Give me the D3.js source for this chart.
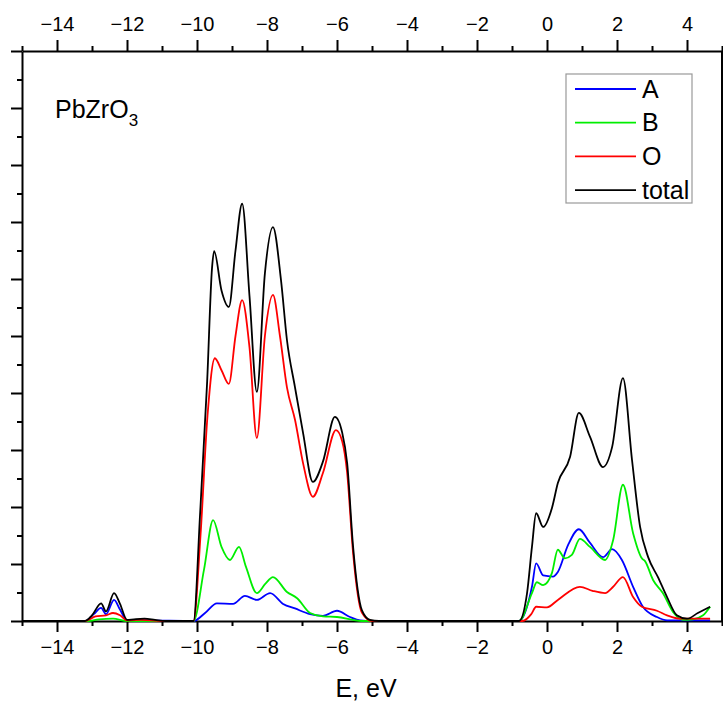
<!DOCTYPE html>
<html lang="en">
<head>
    <meta charset="UTF-8">
    <title>PbZrO3 DOS</title>
    <script src="https://d3js.org/d3.v7.min.js"></script>
    <style>
        body { margin: 0; background: #fff; }
        text { font-family: "Liberation Sans", Arial, sans-serif; fill: #000; }
        .axis path, .axis line { stroke: #000; stroke-width: 2; }
        .axis text { font-size: 20px; }
    </style>
</head>
<body>
    <div id="chart"></div>

    <script>
        // [E (eV), DOS] pairs
        const dosA = [[-15,0],[-13.2,0],[-12.95,0.12],[-12.74,0.23],[-12.6,0.12],[-12.37,0.37],[-12.2,0.2],[-12.0,0.01],[-11.5,0.01],[-10.1,0],
            [-9.77,0.14],[-9.43,0.31],[-8.97,0.3],[-8.63,0.44],[-8.29,0.37],[-7.91,0.49],[-7.54,0.3],[-7.2,0.22],[-6.77,0.12],[-6.4,0.09],
            [-6.0,0.18],[-5.63,0.07],[-5.34,0.01],[-5.0,0],[-0.8,0],[-0.43,0.6],[-0.31,1.01],[-0.11,0.8],[0.17,0.78],[0.31,0.86],
            [0.6,1.33],[0.91,1.61],[1.23,1.37],[1.6,1.12],[1.86,1.26],[2.14,1.07],[2.46,0.6],[2.74,0.25],[3.14,0.07],[3.43,0.01],[4.66,0.01]];

        const dosB = [[-15,0],[-13.1,0],[-12.8,0.03],[-12.4,0.04],[-12.0,0],[-10.1,0],[-9.8,0.9],[-9.54,1.77],[-9.3,1.3],[-9.06,1.07],
            [-8.8,1.3],[-8.6,0.95],[-8.29,0.49],[-8.05,0.65],[-7.83,0.77],[-7.43,0.51],[-7.14,0.4],[-6.77,0.14],[-6.4,0.08],[-6.0,0.07],
            [-5.54,0.02],[-5.3,0],[-0.8,0],[-0.43,0.49],[-0.29,0.68],[-0.11,0.63],[0.14,0.84],[0.31,1.25],[0.51,1.1],[0.71,1.16],
            [0.94,1.44],[1.23,1.3],[1.66,1.07],[1.89,1.42],[2.17,2.39],[2.46,1.54],[2.71,1.1],[2.8,1.05],[3.03,0.72],[3.31,0.49],
            [3.6,0.16],[3.89,0.02],[4.17,0.03],[4.46,0.1],[4.66,0.25]];

        const dosO = [[-15,0],[-13.2,0],[-12.9,0.08],[-12.6,0.1],[-12.4,0.14],[-12.2,0.1],[-12.0,0.01],[-11.6,0.02],[-11,0],[-10.1,0],
            [-9.9,1.5],[-9.7,3.6],[-9.49,4.61],[-9.3,4.4],[-9.09,4.16],[-8.9,5.0],[-8.71,5.63],[-8.5,4.8],[-8.29,3.21],[-8.06,5.0],
            [-7.83,5.72],[-7.63,5.0],[-7.43,4.1],[-7.2,3.53],[-6.97,2.77],[-6.69,2.18],[-6.4,2.6],[-6.03,3.35],[-5.85,3.15],[-5.71,2.6],
            [-5.54,1.19],[-5.29,0.15],[-5.0,0],[-0.7,0],[-0.45,0.12],[-0.31,0.25],[0.0,0.24],[0.31,0.37],[0.94,0.6],[1.3,0.53],
            [1.66,0.49],[1.89,0.6],[2.17,0.77],[2.46,0.42],[2.71,0.25],[3.14,0.18],[3.43,0.1],[3.8,0.04],[4.66,0.04]];

        const dosTotal = [[-15,0],[-13.2,0],[-13.0,0.1],[-12.74,0.31],[-12.6,0.17],[-12.37,0.49],[-12.2,0.3],[-12.0,0.02],[-11.8,0.03],
            [-11.5,0.04],[-11.2,0.02],[-10.9,0],[-10.1,0],[-9.91,1.9],[-9.71,4.2],[-9.57,6.2],[-9.51,6.49],[-9.3,5.8],[-9.09,5.51],
            [-8.9,6.5],[-8.71,7.32],[-8.5,5.7],[-8.29,4.02],[-8.06,6.1],[-7.83,6.91],[-7.6,5.98],[-7.43,4.93],[-7.2,4.1],[-6.97,3.3],
            [-6.69,2.44],[-6.4,2.8],[-6.06,3.58],[-5.85,3.3],[-5.71,2.77],[-5.54,1.3],[-5.29,0.19],[-5.06,0.02],[-4.8,0],[-0.8,0],
            [-0.57,0.49],[-0.43,1.3],[-0.31,1.89],[-0.11,1.65],[0.14,1.98],[0.31,2.42],[0.66,2.88],[0.91,3.65],[1.23,3.23],[1.6,2.7],
            [1.86,3.05],[2.17,4.26],[2.43,2.82],[2.66,1.65],[2.89,1.12],[3.17,0.77],[3.43,0.42],[3.71,0.1],[4.0,0.04],[4.31,0.14],[4.66,0.25]];

        const seriesNames = ["A", "B", "O", "total"];
        const seriesColors = ["#0000ff", "#00ee00", "#ff0000", "#000000"];
        const xMajorTicks = [-14, -12, -10, -8, -6, -4, -2, 0, 2, 4];

        const W = 723, H = 702;
        const margin = { top: 51, right: 1, bottom: 81, left: 22 },
              width = W - margin.left - margin.right,
              height = H - margin.top - margin.bottom;

        const svg = d3.select("#chart").append("svg")
            .attr("width", W).attr("height", H);
        const g = svg.append("g")
            .attr("transform", `translate(${margin.left},${margin.top})`);

        const x = d3.scaleLinear().domain([-15, 5]).range([0, width]);
        const y = d3.scaleLinear().domain([0, 10]).range([height, 0]);

        const minorX = d3.range(-15, 6, 1).filter(v => xMajorTicks.indexOf(v) < 0);
        const minorY = d3.range(0.5, 10, 1);

        // bottom axis
        g.append("g").attr("class", "axis")
            .attr("transform", `translate(0,${height})`)
            .call(d3.axisBottom(x).tickValues(xMajorTicks).tickSize(11).tickSizeOuter(0).tickPadding(8).tickFormat(d3.format("d")));
        g.append("g").attr("class", "axis")
            .attr("transform", `translate(0,${height})`)
            .call(d3.axisBottom(x).tickValues(minorX).tickSize(5).tickFormat(""))
            .select(".domain").remove();

        // top axis
        g.append("g").attr("class", "axis")
            .call(d3.axisTop(x).tickValues(xMajorTicks).tickSize(11).tickSizeOuter(0).tickPadding(9).tickFormat(d3.format("d")));
        g.append("g").attr("class", "axis")
            .call(d3.axisTop(x).tickValues(minorX).tickSize(5).tickFormat(""))
            .select(".domain").remove();

        // left axis (no labels)
        g.append("g").attr("class", "axis")
            .call(d3.axisLeft(y).tickValues(d3.range(0, 11, 1)).tickSize(11).tickSizeOuter(0).tickFormat(""));
        g.append("g").attr("class", "axis")
            .call(d3.axisLeft(y).tickValues(minorY).tickSize(5).tickFormat(""))
            .select(".domain").remove();

        // right frame
        g.append("line")
            .attr("x1", width).attr("x2", width).attr("y1", 0).attr("y2", height)
            .attr("stroke", "#000").attr("stroke-width", 2);

        // curves
        const line = d3.line()
            .x(d => x(d[0]))
            .y(d => y(d[1]))
            .curve(d3.curveMonotoneX);

        const allSeries = [dosA, dosB, dosO, dosTotal];
        allSeries.forEach((s, i) => {
            g.append("path")
                .datum(s)
                .attr("fill", "none")
                .attr("stroke", seriesColors[i])
                .attr("stroke-width", 1.8)
                .attr("stroke-linejoin", "round")
                .attr("d", line);
        });

        // compound label
        const lbl = g.append("text")
            .attr("x", 33).attr("y", 67)
            .style("font-size", "25px");
        lbl.append("tspan").text("PbZrO");
        lbl.append("tspan").attr("dy", 8).style("font-size", "17px").text("3");

        // legend
        const legend = g.append("g")
            .attr("transform", `translate(${566 - margin.left},${74 - margin.top})`);
        legend.append("rect")
            .attr("width", 126).attr("height", 129)
            .attr("fill", "#fff").attr("stroke", "#999").attr("stroke-width", 1.2);
        seriesNames.forEach((name, i) => {
            const ly = 15 + i * 33.7;
            legend.append("line")
                .attr("x1", 9).attr("x2", 70)
                .attr("y1", ly).attr("y2", ly)
                .attr("stroke", seriesColors[i]).attr("stroke-width", 1.8);
            legend.append("text")
                .attr("x", 76).attr("y", ly + 8.5)
                .style("font-size", "25px")
                .text(name);
        });

        // x title
        svg.append("text")
            .attr("x", 366).attr("y", 697)
            .attr("text-anchor", "middle")
            .style("font-size", "25px")
            .text("E, eV");
    </script>
</body>
</html>
